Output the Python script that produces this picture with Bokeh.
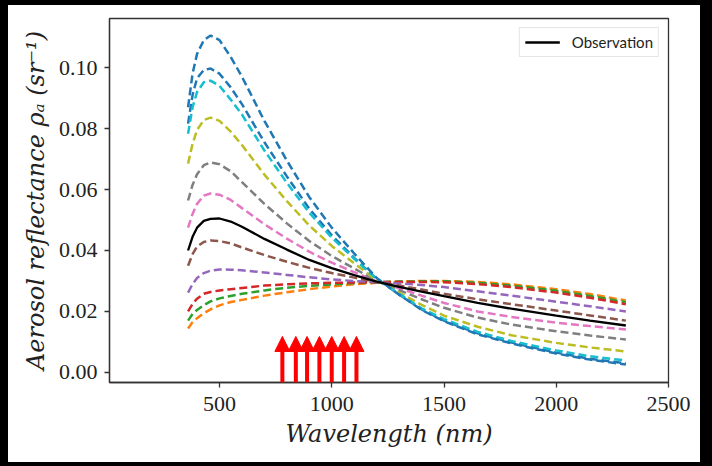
from bokeh.plotting import figure
from bokeh.models import (Range1d, FixedTicker, Arrow, NormalHead, Legend, LegendItem,
                          PrintfTickFormatter, ColumnDataSource)
from bokeh.embed import file_html
from bokeh.resources import INLINE

# ---------------- data ----------------
wavelength = [360, 380, 400, 430, 460, 500, 550, 600, 700, 800, 900, 1000, 1100,
              1200, 1300, 1400, 1500, 1650, 1800, 2000, 2150, 2310]

model_0 = [0.0816, 0.0910, 0.0965, 0.0992, 0.0997, 0.0980, 0.0935, 0.0880, 0.0755, 0.0643, 0.0537,
           0.0450, 0.0376, 0.0307, 0.0256, 0.0207, 0.0170, 0.0128, 0.0098, 0.0065, 0.0045, 0.0030]
model_1 = [0.0144, 0.0165, 0.0178, 0.0194, 0.0207, 0.0220, 0.0231, 0.0238, 0.0252, 0.0263, 0.0273,
           0.0282, 0.0289, 0.0294, 0.0298, 0.0300, 0.0300, 0.0297, 0.0289, 0.0273, 0.0257, 0.0236]
model_2 = [0.0170, 0.0192, 0.0205, 0.0221, 0.0233, 0.0243, 0.0251, 0.0258, 0.0269, 0.0278, 0.0284,
           0.0289, 0.0293, 0.0296, 0.0298, 0.0299, 0.0299, 0.0294, 0.0285, 0.0268, 0.0251, 0.0230]
model_3 = [0.0200, 0.0225, 0.0242, 0.0258, 0.0264, 0.0269, 0.0273, 0.0277, 0.0285, 0.0289, 0.0292,
           0.0294, 0.0295, 0.0296, 0.0297, 0.0297, 0.0296, 0.0290, 0.0280, 0.0262, 0.0245, 0.0224]
model_4 = [0.0262, 0.0290, 0.0310, 0.0326, 0.0334, 0.0338, 0.0337, 0.0335, 0.0328, 0.0320, 0.0312,
           0.0305, 0.0300, 0.0296, 0.0292, 0.0287, 0.0280, 0.0266, 0.0252, 0.0232, 0.0217, 0.0200]
model_5 = [0.0350, 0.0388, 0.0413, 0.0428, 0.0433, 0.0431, 0.0423, 0.0410, 0.0385, 0.0363, 0.0343,
           0.0326, 0.0311, 0.0297, 0.0285, 0.0272, 0.0258, 0.0240, 0.0224, 0.0203, 0.0187, 0.0170]
model_6 = [0.0475, 0.0520, 0.0553, 0.0580, 0.0587, 0.0583, 0.0566, 0.0539, 0.0486, 0.0439, 0.0396,
           0.0360, 0.0329, 0.0299, 0.0276, 0.0252, 0.0228, 0.0200, 0.0182, 0.0163, 0.0152, 0.0141]
model_7 = [0.0564, 0.0615, 0.0650, 0.0680, 0.0689, 0.0683, 0.0660, 0.0624, 0.0553, 0.0489, 0.0431,
           0.0382, 0.0341, 0.0300, 0.0270, 0.0240, 0.0212, 0.0180, 0.0157, 0.0135, 0.0121, 0.0108]
model_8 = [0.0685, 0.0750, 0.0795, 0.0828, 0.0836, 0.0825, 0.0790, 0.0746, 0.0649, 0.0562, 0.0482,
           0.0415, 0.0358, 0.0303, 0.0262, 0.0222, 0.0186, 0.0150, 0.0122, 0.0097, 0.0082, 0.0069]
model_9 = [0.0783, 0.0870, 0.0920, 0.0952, 0.0957, 0.0940, 0.0895, 0.0846, 0.0728, 0.0622, 0.0524,
           0.0442, 0.0373, 0.0306, 0.0258, 0.0210, 0.0175, 0.0133, 0.0103, 0.0072, 0.0053, 0.0039]
model_10 = [0.0870, 0.0980, 0.1045, 0.1090, 0.1105, 0.1090, 0.1035, 0.0970, 0.0825, 0.0695, 0.0575,
            0.0475, 0.0390, 0.0310, 0.0255, 0.0205, 0.0168, 0.0125, 0.0095, 0.0062, 0.0042, 0.0026]
observation = [0.0400, 0.0445, 0.0475, 0.0497, 0.0504, 0.0505, 0.0495, 0.0478, 0.0438, 0.0403, 0.0369,
               0.0342, 0.0319, 0.0298, 0.0281, 0.0265, 0.0250, 0.0228, 0.0209, 0.0186, 0.0170, 0.0154]

arrow_wavelengths = [780, 840, 890, 945, 1000, 1055, 1110]
x_ticks = [500, 1000, 1500, 2000, 2500]
y_ticks = [0.00, 0.02, 0.04, 0.06, 0.08, 0.10]

models = [model_0, model_1, model_2, model_3, model_4, model_5,
          model_6, model_7, model_8, model_9, model_10]
colors = ["#1f77b4", "#ff7f0e", "#2ca02c", "#d62728", "#9467bd", "#8c564b",
          "#e377c2", "#7f7f7f", "#bcbd22", "#17becf", "#1f77b4"]

# ---------------- figure ----------------
y0, y1 = -0.0033, 0.1161
p = figure(width=712, height=466, x_range=Range1d(10, 2500), y_range=Range1d(y0, y1),
           output_backend="svg", toolbar_location=None,
           min_border_left=101, min_border_right=52, min_border_top=13, min_border_bottom=89)
p.styles = {"border-style": "solid", "border-color": "black",
            "border-width": "5px 12px 4px 8px", "box-sizing": "border-box"}
p.background_fill_color = "white"
p.border_fill_color = "white"
p.outline_line_color = "#333333"
p.outline_line_width = 1.3
p.xgrid.visible = False
p.ygrid.visible = False

for vals, c in zip(models, colors):
    p.line(wavelength, vals, line_color=c, line_width=2.5, line_dash="8 4")

obs_r = p.line(wavelength, observation, line_color="black", line_width=2.3)

src = ColumnDataSource(dict(x=arrow_wavelengths,
                            ys=[y0] * len(arrow_wavelengths),
                            ye=[0.0118] * len(arrow_wavelengths)))
p.add_layout(Arrow(source=src, x_start="x", y_start="ys", x_end="x", y_end="ye",
                   line_color="red", line_width=4,
                   end=NormalHead(size=15, fill_color="red", line_color="red", line_width=1)))

for ax in (p.xaxis[0], p.yaxis[0]):
    ax.axis_line_color = "#333333"
    ax.axis_line_width = 1.3
    ax.major_tick_line_color = "#333333"
    ax.major_tick_line_width = 1.3
    ax.major_tick_out = 5
    ax.major_tick_in = 0
    ax.minor_tick_out = 0
    ax.minor_tick_in = 0
    ax.major_label_text_font = "Liberation Serif"
    ax.major_label_text_font_size = "22px"
    ax.major_label_text_color = "#222222"
    ax.axis_label_text_font = "DejaVu Serif"
    ax.axis_label_text_font_style = "italic"
    ax.axis_label_text_font_size = "24px"
    ax.axis_label_text_color = "#222222"

p.xaxis.ticker = FixedTicker(ticks=x_ticks)
p.yaxis.ticker = FixedTicker(ticks=y_ticks)
p.yaxis.formatter = PrintfTickFormatter(format="%.2f")
p.xaxis.axis_label = "Wavelength (nm)"
p.yaxis.axis_label = "Aerosol reflectance ρₐ (sr⁻¹)"
p.xaxis.major_label_standoff = 9
p.yaxis.major_label_standoff = 7
p.xaxis.axis_label_standoff = 6
p.yaxis.axis_label_standoff = 6

legend = Legend(items=[LegendItem(label="Observation", renderers=[obs_r])],
                location="top_right", margin=9, padding=5, spacing=0,
                glyph_width=35, glyph_height=18, label_standoff=12,
                label_text_font="Lato", label_text_font_size="15px",
                label_text_color="#222222",
                border_line_color="#cccccc", border_line_width=1,
                background_fill_color="white", background_fill_alpha=0.9)
p.add_layout(legend)

open("out.html", "w").write(file_html(p, INLINE))
